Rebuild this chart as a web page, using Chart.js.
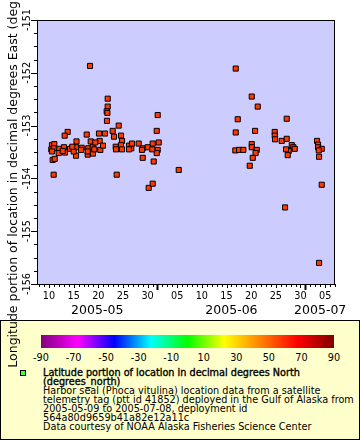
<!DOCTYPE html>
<html>
<head>
<meta charset="utf-8">
<script src="https://cdn.jsdelivr.net/npm/chart.js@4.4.1/dist/chart.umd.min.js"></script>
<style>
html,body{margin:0;padding:0;background:#fff;}
body{width:360px;height:440px;position:relative;overflow:hidden;font-family:'DejaVu Sans',sans-serif;color:#000;}
#legend{position:absolute;left:0;top:320px;width:358px;height:118px;background:#ffffcc;border:1px solid #000;}
#cbar{position:absolute;left:41px;top:335px;width:293px;height:13px;}
.cbl{position:absolute;top:352px;font-size:9.7px;line-height:11px;transform:translateX(-50%);white-space:nowrap;}
#ltext{position:absolute;left:43px;top:368px;font-size:9.7px;line-height:9px;white-space:nowrap;}
.b{-webkit-text-stroke:0.35px #000;}
#swatch{position:absolute;left:20px;top:370px;width:4px;height:4px;background:#44ff44;border:1px solid #000;}
canvas{position:absolute;left:0;top:0;z-index:2;}
</style>
</head>
<body>
<div id="legend"></div>
<div id="cbar"></div>
<div id="cblabels"></div>
<div id="swatch"></div>
<div id="ltext">
<div class="b">Latitude portion of location in decimal degrees North</div>
<div class="b">(degrees_north)</div>
<div>Harbor seal (Phoca vitulina) location data from a satellite</div>
<div>telemetry tag (ptt id 41852) deployed in the Gulf of Alaska from</div>
<div>2005-05-09 to 2005-07-08, deployment id</div>
<div>564a80d9659b41a82e12a11c</div>
<div>Data courtesy of NOAA Alaska Fisheries Science Center</div>
</div>
<canvas id="c" width="360" height="440"></canvas>
<script>
// Time in days counted from 2005-05-00 (May 10 = 10, June 1 = 32, July 1 = 62)
const dayOfMay2005 = [
  18.32, 21.91, 21.91, 21.70, 21.85, 21.76, 24.14, 32.05, 31.85, 22.92,
  23.18, 24.60, 13.79, 13.18, 17.65, 20.14, 21.36, 15.58, 18.46, 20.28,
  28.19, 31.03, 32.25, 10.75, 11.16, 10.95, 15.48, 17.85, 18.92, 23.73,
  29.01, 31.24, 30.22, 31.03, 36.31, 47.87, 51.12, 52.33, 48.28, 58.21,
  47.87, 51.79, 55.78, 55.78, 55.84, 57.20, 58.21, 51.12, 51.12, 52.13,
  51.89, 51.32, 50.71, 47.79, 48.54, 49.41, 59.23, 59.55, 59.84, 58.62,
  58.07, 58.42, 64.36, 64.56, 64.56, 65.31, 64.71, 64.77, 65.31, 57.87,
  64.77, 10.61, 11.08, 10.47, 10.95, 10.61, 12.09, 11.97, 13.04, 13.25,
  14.26, 15.48, 16.63, 17.97, 17.85, 18.86, 19.39, 20.41, 23.53, 15.01,
  24.81, 24.60, 23.59, 24.81, 26.23, 26.69, 26.23, 29.01, 28.86, 30.02,
  32.05, 31.85, 30.95, 26.84, 12.78, 14.73, 16.49, 19.19, 20.95
];
// Longitude, decimal degrees East
const lonEast = [
  -151.87, -152.49, -152.64, -152.73, -152.76, -152.91, -153.00, -152.80, -153.10, -153.10,
  -153.21, -153.19, -153.12, -153.19, -153.17, -153.15, -153.15, -153.30, -153.30, -153.29,
  -153.34, -153.34, -153.32, -153.65, -153.63, -153.93, -153.57, -153.55, -153.53, -153.93,
  -153.61, -153.68, -154.18, -154.10, -153.84, -151.92, -152.45, -152.64, -152.88, -152.87,
  -153.13, -153.10, -153.12, -153.19, -153.26, -153.29, -153.25, -153.35, -153.41, -153.46,
  -153.52, -153.61, -153.76, -153.47, -153.46, -153.46, -153.37, -153.41, -153.44, -153.48,
  -153.45, -153.56, -153.29, -153.36, -153.41, -153.44, -153.47, -153.59, -154.12, -154.55,
  -155.60, -153.37, -153.35, -153.45, -153.43, -153.49, -153.44, -153.52, -153.41, -153.51,
  -153.44, -153.41, -153.42, -153.43, -153.49, -153.41, -153.32, -153.46, -153.40, -153.49,
  -153.29, -153.37, -153.45, -153.45, -153.38, -153.43, -153.45, -153.43, -153.46, -153.41,
  -153.46, -153.52, -153.45, -153.34, -153.48, -153.40, -153.46, -153.45, -153.38
];
// Latitude (colour variable), decimal degrees North — all points read as about the same colour
const latitudeNorth = 57.5;

const xTickDays   = [10, 15, 20, 25, 30, 36, 41, 46, 51, 56, 61, 66];
const xTickLabels = ['10','15','20','25','30','05','10','15','20','25','30','05'];
const monthStartDays = [1, 32, 62, 93];
const monthLabels = ['2005-05', '2005-06', '2005-07'];
const yTickValues = [-156, -155, -154, -153, -152, -151];
const yTickLabels = ['-156', '-155', '-154', '-153', '-152', '-151'];
const colorbarTicks = [-90, -70, -50, -30, -10, 10, 30, 50, 70, 90];
const paletteValues = [-90, -67.5, -45, -22.5, 0, 22.5, 45, 67.5, 90];
const paletteColors = ['#800080','#ff00ff','#0000ff','#00ffff','#00ff00','#ffff00','#ff8000','#ff0000','#800000'];
const yTitle = 'Longitude portion of location in decimal degrees East (degrees_east)';

function hexToRgb(h){ return [parseInt(h.substr(1,2),16),parseInt(h.substr(3,2),16),parseInt(h.substr(5,2),16)]; }
function paletteColor(v){
  for (let i = 0; i < paletteValues.length - 1; i++) {
    if (v <= paletteValues[i+1]) {
      const t = (v - paletteValues[i]) / (paletteValues[i+1] - paletteValues[i]);
      const a = hexToRgb(paletteColors[i]), b = hexToRgb(paletteColors[i+1]);
      return 'rgb(' + a.map((c,k) => Math.round(c + (b[k]-c)*t)).join(',') + ')';
    }
  }
  return paletteColors[paletteColors.length-1];
}

// colour bar (legend)
const pMin = paletteValues[0], pMax = paletteValues[paletteValues.length-1];
document.getElementById('cbar').style.background = 'linear-gradient(to right,' +
  paletteValues.map((v,i) => paletteColors[i] + ' ' + ((v-pMin)/(pMax-pMin)*100) + '%').join(',') + ')';
const cbl = document.getElementById('cblabels');
colorbarTicks.forEach(v => {
  const s = document.createElement('div');
  s.className = 'cbl';
  s.style.left = (41 + (v-pMin)/(pMax-pMin)*293) + 'px';
  s.textContent = String(v);
  cbl.appendChild(s);
});

const FONT = "'DejaVu Sans'";
const axesPlugin = {
  id: 'erddapAxes',
  beforeDatasetsDraw(chart) {
    const {ctx, chartArea: a} = chart;
    ctx.save();
    ctx.fillStyle = '#ccccff';
    ctx.fillRect(a.left, a.top, a.right - a.left, a.bottom - a.top);
    ctx.restore();
  },
  afterDraw(chart) {
    const {ctx, chartArea: a, scales: {x, y}} = chart;
    ctx.save();
    ctx.strokeStyle = '#000';
    ctx.fillStyle = '#000';
    ctx.lineWidth = 1;
    ctx.strokeRect(a.left + 0.5, a.top + 0.5, a.right - a.left - 1, a.bottom - a.top);
    // y ticks
    for (let v = y.min; v <= y.max + 1e-9; v += 0.25) {
      const py = Math.round(y.getPixelForValue(v)) + 0.5;
      const major = Math.abs(v - Math.round(v)) < 1e-6;
      const len = major ? 6 : 3;
      ctx.beginPath(); ctx.moveTo(a.left - len, py); ctx.lineTo(a.left, py); ctx.stroke();
    }
    ctx.font = '9.7px ' + FONT;
    ctx.textAlign = 'center'; ctx.textBaseline = 'middle';
    yTickValues.forEach((v, i) => {
      const py = y.getPixelForValue(v);
      ctx.save(); ctx.translate(27, py); ctx.rotate(-Math.PI/2);
      ctx.fillText(yTickLabels[i], 0, 0); ctx.restore();
    });
    // x ticks
    for (let d = Math.ceil(x.min); d <= Math.floor(x.max); d++) {
      const px = Math.round(x.getPixelForValue(d)) + 0.5;
      const isMonth = monthStartDays.includes(d);
      const isLab = xTickDays.includes(d);
      ctx.lineWidth = isMonth ? 2 : 1;
      const len = isMonth ? 6 : (isLab ? 4 : 3);
      ctx.beginPath(); ctx.moveTo(px, a.bottom); ctx.lineTo(px, a.bottom + len); ctx.stroke();
    }
    ctx.lineWidth = 1;
    xTickDays.forEach((d, i) => {
      ctx.fillText(xTickLabels[i], x.getPixelForValue(d), a.bottom + 12.5);
    });
    ctx.font = '12.5px ' + FONT;
    monthLabels.forEach((m, i) => {
      const s = Math.max(monthStartDays[i], x.min), e = Math.min(monthStartDays[i+1], x.max);
      const cx = (x.getPixelForValue(s) + x.getPixelForValue(e)) / 2;
      ctx.fillText(m, cx, a.bottom + 26.5);
    });
    // y title
    ctx.save();
    ctx.translate(13.5, (a.top + a.bottom) / 2);
    ctx.rotate(-Math.PI/2);
    ctx.fillText(yTitle, 0, 0);
    ctx.restore();
    ctx.restore();
  }
};

const pointColor = paletteColor(latitudeNorth);
new Chart(document.getElementById('c'), {
  type: 'scatter',
  data: {
    datasets: [{
      data: dayOfMay2005.map((d, i) => ({x: d, y: lonEast[i]})),
      pointStyle: 'rect',
      pointRadius: 3.6,
      backgroundColor: pointColor,
      borderColor: '#000',
      borderWidth: 1
    }]
  },
  options: {
    responsive: false,
    animation: false,
    devicePixelRatio: 1,
    layout: {padding: {top: 20, right: 25, bottom: 126, left: 0}},
    plugins: {legend: {display: false}, tooltip: {enabled: false}},
    scales: {
      x: {type: 'linear', min: 7.57, max: 68.0,
          grid: {display: false}, border: {display: false}, ticks: {display: false},
          afterFit(s) { s.height = 30; }},
      y: {type: 'linear', min: -156, max: -151,
          grid: {display: false}, border: {display: false}, ticks: {display: false},
          afterFit(s) { s.width = 37; }}
    }
  },
  plugins: [axesPlugin]
});
</script>
</body>
</html>
